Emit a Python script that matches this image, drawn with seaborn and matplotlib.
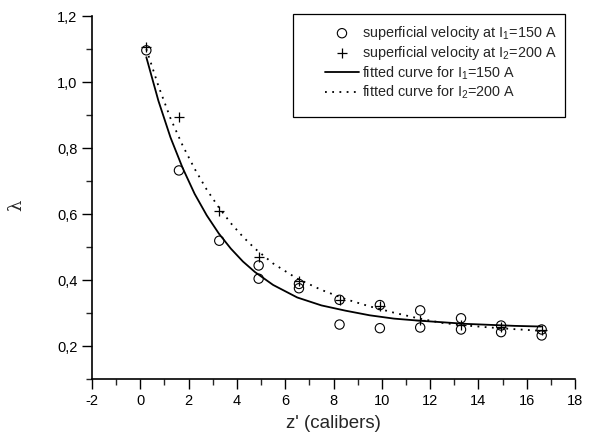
import matplotlib
matplotlib.use("Agg")
import matplotlib.pyplot as plt
import matplotlib.ticker as mticker
from matplotlib.patches import Rectangle
import pandas as pd
import seaborn as sns

# measured points (z' in calibers, lambda)
z_i1 = [0.25, 1.6, 3.27, 4.9, 4.9, 6.57, 6.57, 8.25, 8.25, 9.92, 9.92,
        11.59, 11.59, 13.28, 13.28, 14.94, 14.94, 16.62, 16.62]
lam_i1 = [1.096, 0.732, 0.519, 0.444, 0.404, 0.388, 0.375, 0.340, 0.265, 0.324, 0.254,
          0.308, 0.256, 0.284, 0.250, 0.262, 0.242, 0.250, 0.232]

z_i2 = [0.25, 1.6, 3.27, 4.9, 6.57, 8.25, 9.92, 11.59, 13.28, 14.94, 16.62]
lam_i2 = [1.105, 0.894, 0.608, 0.471, 0.397, 0.340, 0.322, 0.279, 0.263, 0.258, 0.250]

# fitted curves
z_fit = [0.25, 0.75, 1.25, 1.75, 2.25, 2.75, 3.25, 3.75, 4.25, 4.75, 5.5,
         6.5, 7.5, 8.5, 9.5, 10.5, 11.5, 12.5, 13.5, 14.5, 15.5, 16.6]
fit_i1 = [1.075, 0.943, 0.832, 0.740, 0.661, 0.596, 0.541, 0.495, 0.456, 0.424, 0.385,
          0.347, 0.323, 0.307, 0.293, 0.283, 0.277, 0.272, 0.267, 0.264, 0.261, 0.259]
fit_i2 = [1.100, 0.988, 0.890, 0.808, 0.737, 0.674, 0.620, 0.572, 0.531, 0.495, 0.450,
          0.404, 0.370, 0.342, 0.320, 0.301, 0.284, 0.270, 0.262, 0.256, 0.251, 0.246]

labels = [r"superficial velocity at I$_1$=150 A",
          r"superficial velocity at I$_2$=200 A",
          r"fitted curve for I$_1$=150 A",
          r"fitted curve for I$_2$=200 A"]

sns.set_style("ticks")
plt.rcParams["font.family"] = ["Liberation Sans", "DejaVu Sans"]
plt.rcParams["mathtext.fontset"] = "custom"
plt.rcParams["mathtext.rm"] = "Liberation Sans"
plt.rcParams["mathtext.default"] = "regular"

W, H = 595, 444
fig = plt.figure(figsize=(W / 100, H / 100), dpi=100)
ax = fig.add_axes([92 / W, 1 - 379 / H, 483 / W, 363 / H])

pts1 = pd.DataFrame({"z": z_i1, "lam": lam_i1})
pts2 = pd.DataFrame({"z": z_i2, "lam": lam_i2})
fits = pd.DataFrame({"z": z_fit, "f1": fit_i1, "f2": fit_i2})

sns.scatterplot(data=pts1, x="z", y="lam", ax=ax, marker="o", s=45,
                facecolor="none", edgecolor="black", linewidth=0.8,
                label=labels[0], zorder=3)
sns.scatterplot(data=pts2, x="z", y="lam", ax=ax, marker="+", s=50,
                color="black", linewidth=0.9, label=labels[1], zorder=3)
sns.lineplot(data=fits, x="z", y="f1", ax=ax, color="black", linewidth=1.3,
             label=labels[2], sort=False)
sns.lineplot(data=fits, x="z", y="f2", ax=ax, color="black", linewidth=1.3,
             linestyle=(0, (1, 3)), label=labels[3], sort=False)

ax.set_xlim(-2, 18)
ax.set_ylim(0.1, 1.2)
ax.xaxis.set_major_locator(mticker.MultipleLocator(2))
ax.xaxis.set_minor_locator(mticker.MultipleLocator(1))
ax.yaxis.set_major_locator(mticker.FixedLocator([0.2, 0.4, 0.6, 0.8, 1.0, 1.2]))
ax.yaxis.set_minor_locator(mticker.FixedLocator([0.1, 0.3, 0.5, 0.7, 0.9, 1.1]))
ax.yaxis.set_major_formatter(mticker.FuncFormatter(lambda v, p: f"{v:.1f}".replace(".", ",")))
ax.xaxis.set_major_formatter(mticker.FuncFormatter(lambda v, p: f"{v:.0f}"))
ax.tick_params(which="major", direction="out", length=7, width=1, labelsize=10.5, colors="black")
ax.tick_params(which="minor", direction="out", length=4, width=1)
for side in ["left", "bottom"]:
    ax.spines[side].set_linewidth(1.2)
    ax.spines[side].set_color("black")
sns.despine(ax=ax)

ax.set_xlabel("z' (calibers)", fontsize=13.5, labelpad=5)
ax.set_ylabel("λ", fontsize=13, family=["DejaVu Serif"])
ax.yaxis.set_label_coords(-0.138, 0.479)

# legend box as drawn in the original, entries placed inside it
box = Rectangle((293 / W, 1 - 117 / H), 272 / W, 103 / H, transform=fig.transFigure,
                facecolor="white", edgecolor="black", linewidth=0.9,
                zorder=4, clip_on=False)
ax.add_patch(box)
leg = ax.legend(loc="upper left", bbox_to_anchor=(325 / W, 1 - 24 / H),
                bbox_transform=fig.transFigure, fontsize=10.4, frameon=False,
                handlelength=2.35, handletextpad=0.2, labelspacing=0.15,
                borderpad=0, borderaxespad=0, scatterpoints=1)
leg.set_zorder(5)

fig.savefig("out.png", dpi=100)
